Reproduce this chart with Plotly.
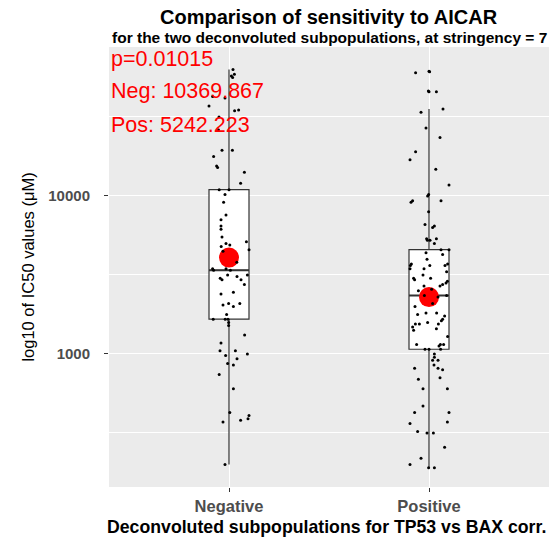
import plotly.graph_objects as go

# ---------------- data (IC50 values are given as log10 of µM) ----------------
categories = ["Negative", "Positive"]

neg_log10 = [4.80, 4.77, 4.76, 4.75, 4.63, 4.62, 4.57, 4.54, 4.545, 4.50,
             4.42, 4.29, 4.29, 4.25, 4.19, 4.18, 4.15, 4.08, 4.04, 4.04,
             4.01, 3.96, 3.88, 3.85, 3.81, 3.79, 3.74, 3.70, 3.69, 3.71,
             3.68, 3.66, 3.65, 3.58, 3.54, 3.53, 3.54, 3.53, 3.50, 3.48,
             3.47, 3.49, 3.50, 3.47, 3.44, 3.38, 3.39, 3.31, 3.32, 3.30,
             3.32, 3.25, 3.22, 3.22, 3.22, 3.20, 3.18, 3.12, 3.07, 3.02,
             3.02, 3.00, 2.99, 2.97, 2.94, 2.93, 2.87, 2.78, 2.63, 2.57,
             2.58, 2.59, 2.61, 2.30]
neg_jitter = [0.02, 0.027, 0.012, 0.018, -0.082, -0.02, -0.10, 0.028, 0.048, -0.05,
              -0.053, -0.035, 0.017, -0.077, -0.062, -0.057, 0.077, 0.058, -0.049, 0.0,
              -0.02, -0.027, -0.015, -0.04, -0.04, -0.04, -0.035, -0.015, 0.004, 0.087,
              -0.039, 0.10, -0.03, 0.039, -0.082, -0.077, -0.015, 0.007, -0.007, -0.044,
              -0.035, 0.04, 0.092, 0.06, 0.077, -0.04, 0.022, -0.03, -0.002, 0.022,
              0.054, -0.012, -0.079, -0.019, -0.005, -0.002, -0.002, 0.078, -0.04, -0.045,
              0.032, 0.092, -0.017, 0.04, -0.007, 0.022, -0.049, 0.022, 0.004, -0.03,
              0.058, 0.095, 0.10, -0.02]

pos_log10 = [4.78, 4.79, 4.786, 4.66, 4.665, 4.66, 4.53, 4.55, 4.43, 4.37,
             4.28, 4.23, 4.17, 4.07, 4.01, 4.00, 3.97, 3.96, 3.97, 3.90,
             3.82, 3.81, 3.80, 3.73, 3.73, 3.72, 3.72, 3.70, 3.66, 3.66,
             3.64, 3.63, 3.60, 3.57, 3.56, 3.54, 3.56, 3.57, 3.56, 3.54,
             3.52, 3.50, 3.48, 3.47, 3.48, 3.46, 3.45, 3.43, 3.44, 3.43,
             3.41, 3.40, 3.37, 3.36, 3.37, 3.32, 3.30, 3.26, 3.26, 3.25,
             3.24, 3.22, 3.21, 3.19, 3.20, 3.19, 3.19, 3.17, 3.15, 3.16,
             3.11, 3.06, 3.06, 3.05, 3.06, 3.03, 3.03, 3.03, 3.00, 2.98,
             2.96, 2.96, 2.93, 2.91, 2.90, 2.91, 2.84, 2.85, 2.78, 2.78,
             2.67, 2.63, 2.63, 2.56, 2.57, 2.51, 2.50, 2.50, 2.41, 2.34,
             2.30, 2.28, 2.28]
pos_jitter = [-0.067, 0.0, 0.003, 0.0, -0.003, 0.037, -0.04, 0.07, -0.015, 0.055,
              -0.067, -0.095, 0.034, 0.10, -0.002, -0.007, -0.082, -0.09, 0.06, -0.002,
              -0.02, 0.027, 0.018, 0.037, -0.012, -0.008, 0.005, 0.027, 0.06, 0.10,
              -0.015, 0.068, -0.01, -0.088, -0.093, -0.095, 0.08, 0.093, 0.004, -0.025,
              0.088, -0.03, -0.077, -0.072, 0.008, 0.092, 0.085, 0.055, 0.068, -0.025,
              0.013, -0.053, -0.023, 0.045, 0.088, 0.018, -0.07, -0.015, 0.038, -0.057,
              0.078, 0.068, 0.062, 0.047, -0.007, -0.068, -0.048, -0.082, -0.077, 0.037,
              0.093, -0.062, 0.057, 0.05, 0.073, -0.02, 0.0, 0.058, 0.027, 0.027,
              0.045, 0.018, 0.025, 0.045, 0.068, -0.072, -0.053, 0.055, -0.03, 0.092,
              -0.03, -0.072, 0.10, -0.095, 0.092, -0.057, -0.01, 0.022, 0.078, -0.04,
              -0.095, -0.002, 0.027]

# box statistics (log10 µM): Negative, Positive
box_q1 = [3.22, 3.03]
box_median = [3.53, 3.37]
box_q3 = [4.04, 3.66]
box_lower = [2.30, 2.28]
box_upper = [4.80, 4.55]
group_mean = [3.61, 3.36]

p_value_text = "p=0.01015"
neg_mean_text = "Neg: 10369.867"
pos_mean_text = "Pos: 5242.223"

assert len(neg_log10) == len(neg_jitter)
assert len(pos_log10) == len(pos_jitter)

# ---------------- figure ----------------
FONT = "Liberation Sans, Arial, sans-serif"
positions = [1, 2]
BOX_W = 0.2

def lin(v):
    return [10 ** x for x in v]

fig = go.Figure()

for i, pos in enumerate(positions):
    fig.add_trace(go.Box(
        x=[pos],
        q1=[10 ** box_q1[i]], median=[10 ** box_median[i]], q3=[10 ** box_q3[i]],
        lowerfence=[10 ** box_lower[i]], upperfence=[10 ** box_upper[i]],
        width=BOX_W, whiskerwidth=0, boxpoints=False,
        fillcolor="white", line=dict(color="#333333", width=1.2),
        showlegend=False, hoverinfo="skip"))
    # thicker median bar (ggplot style)
    fig.add_trace(go.Scatter(
        x=[pos - BOX_W / 2, pos + BOX_W / 2],
        y=[10 ** box_median[i]] * 2, mode="lines",
        line=dict(color="#333333", width=2), showlegend=False, hoverinfo="skip"))

fig.add_trace(go.Scatter(
    x=positions, y=lin(group_mean), mode="markers",
    marker=dict(color="#FF0000", size=20, line=dict(width=0)),
    showlegend=False))

for pos, vals, jit in [(positions[0], neg_log10, neg_jitter),
                       (positions[1], pos_log10, pos_jitter)]:
    fig.add_trace(go.Scatter(
        x=[pos + j for j in jit], y=lin(vals), mode="markers",
        marker=dict(color="black", size=3, line=dict(width=0)),
        showlegend=False))

fig.update_layout(
    width=558, height=546,
    margin=dict(l=109, r=9, t=47, b=59),
    paper_bgcolor="white", plot_bgcolor="#EBEBEB",
    font=dict(family=FONT),
    xaxis=dict(range=[0.4, 2.6], tickvals=positions, ticktext=categories,
               showgrid=True, gridcolor="white", gridwidth=1.1, zeroline=False,
               ticks="outside", ticklen=4, tickcolor="#333333", tickwidth=1,
               tickfont=dict(size=16.5, color="#4D4D4D", weight="bold"),
               showline=False),
    yaxis=dict(type="log", range=[2.158, 4.943],
               tickvals=[1000, 10000], ticktext=["1000", "10000"],
               showgrid=True, gridcolor="white", gridwidth=1.1, zeroline=False,
               ticks="outside", ticklen=4, tickcolor="#333333", tickwidth=1,
               ticklabelstandoff=11,
               tickfont=dict(size=15, color="#4D4D4D", weight="bold"),
               minor=dict(tickvals=[10 ** 2.5, 10 ** 3.5, 10 ** 4.5], showgrid=True,
                          gridcolor="white", gridwidth=0.6, ticks=""),
               showline=False),
)

annos = [
    dict(text="<b>Comparison of sensitivity to AICAR</b>", x=0.5, y=1.068,
         font=dict(size=20, color="black")),
    dict(text="<b>for the two deconvoluted subpopulations, at stringency = 7</b>",
         x=0.5, y=1.0216, font=dict(size=15.5, color="black")),
    dict(text="<b>Deconvoluted subpopulations for TP53 vs BAX corr.</b>", x=0.495,
         y=-0.091, font=dict(size=17.7, color="black")),
    dict(text="log10 of IC50 values (μM)", x=-0.185, y=0.5, textangle=-90,
         font=dict(size=16.5, color="black")),
]
for a in annos:
    fig.add_annotation(xref="paper", yref="paper", showarrow=False,
                       xanchor="center", yanchor="middle", **a)

for txt, ypx in [(p_value_text, 59), (neg_mean_text, 91), (pos_mean_text, 125)]:
    fig.add_annotation(xref="paper", yref="paper", x=0, xanchor="left",
                       y=(487 - ypx) / 440, yanchor="middle", showarrow=False,
                       text=txt, font=dict(size=21.5, color="#FF0000"))

fig.write_html("out.html")
